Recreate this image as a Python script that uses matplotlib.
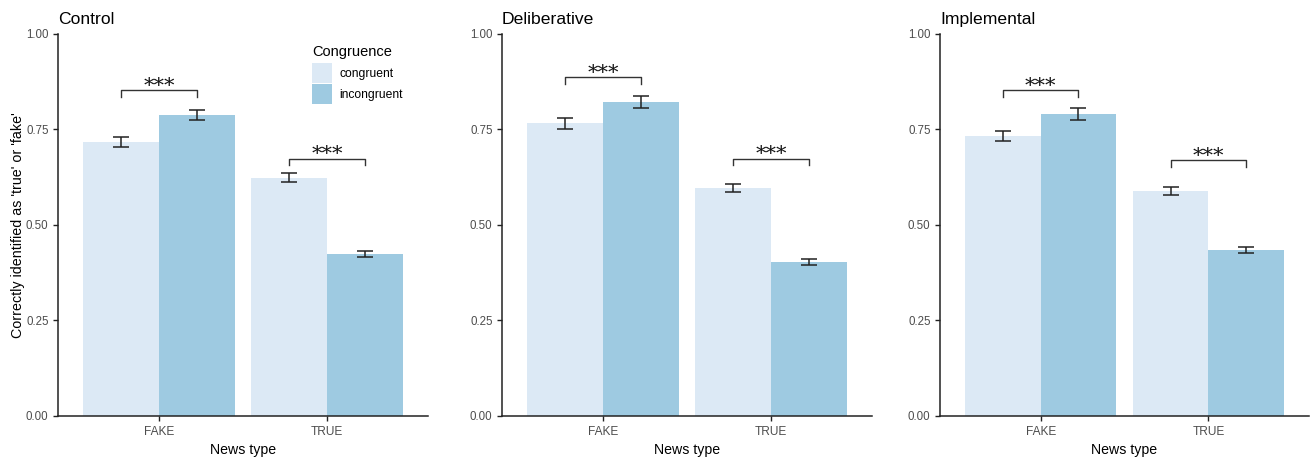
import matplotlib
matplotlib.use("Agg")
import matplotlib.pyplot as plt
import numpy as np
from matplotlib.patches import Patch

plt.rcParams['font.family'] = ['Liberation Sans', 'DejaVu Sans']

panels = ["Control", "Deliberative", "Implemental"]
news_types = ["FAKE", "TRUE"]
groups = ["congruent", "incongruent"]

# means per panel: [FAKE, TRUE]
congruent = {
    "Control": [0.717, 0.623],
    "Deliberative": [0.765, 0.597],
    "Implemental": [0.732, 0.589],
}
incongruent = {
    "Control": [0.787, 0.423],
    "Deliberative": [0.821, 0.403],
    "Implemental": [0.789, 0.434],
}
congruent_err = {
    "Control": [0.013, 0.011],
    "Deliberative": [0.015, 0.0105],
    "Implemental": [0.013, 0.011],
}
incongruent_err = {
    "Control": [0.0135, 0.008],
    "Deliberative": [0.016, 0.008],
    "Implemental": [0.015, 0.0075],
}
# significance bracket heights: [FAKE, TRUE]
bracket_y = {
    "Control": [0.852, 0.673],
    "Deliberative": [0.887, 0.673],
    "Implemental": [0.852, 0.668],
}
sig_label = "***"
yticks = [0.00, 0.25, 0.50, 0.75, 1.00]

col_cong = "#DCE9F5"
col_incong = "#9ECAE1"
axis_col = "#222222"
tick_col = "#4D4D4D"

W, H = 1310, 457
fig = plt.figure(figsize=(W / 100, H / 100), dpi=100)

lefts = [58, 502, 940]
widths = [370, 370, 369]
bottom_px, top_px = 416, 33.5

x = np.arange(1, len(news_types) + 1)
bw = 0.45

for i, p in enumerate(panels):
    ax = fig.add_axes([lefts[i] / W, (H - bottom_px) / H, widths[i] / W, (bottom_px - top_px) / H])
    ax.bar(x - bw / 2, congruent[p], width=bw, color=col_cong, label=groups[0], zorder=1)
    ax.bar(x + bw / 2, incongruent[p], width=bw, color=col_incong, label=groups[1], zorder=1)
    ax.errorbar(x - bw / 2, congruent[p], yerr=congruent_err[p], fmt="none",
                ecolor="#222222", elinewidth=1.1, capsize=6, capthick=1.1, zorder=3)
    ax.errorbar(x + bw / 2, incongruent[p], yerr=incongruent_err[p], fmt="none",
                ecolor="#222222", elinewidth=1.1, capsize=6, capthick=1.1, zorder=3)
    for j in range(len(news_types)):
        yb = bracket_y[p][j]
        x0, x1 = x[j] - bw / 2, x[j] + bw / 2
        ax.plot([x0, x0, x1, x1], [yb - 0.018, yb, yb, yb - 0.018], color="#333333", lw=1.0, zorder=3)
        ax.text((x0 + x1) / 2, yb - 0.005, sig_label, ha="center", va="baseline",
                fontsize=15, family="DejaVu Serif", color="#111111")
    ax.set_xlim(0.4, 2.6)
    ax.set_ylim(0, 1)
    ax.set_yticks(yticks)
    ax.set_yticklabels([f"{v:.2f}" for v in yticks])
    ax.set_xticks(x)
    ax.set_xticklabels(news_types)
    for s in ["top", "right"]:
        ax.spines[s].set_visible(False)
    for s in ["left", "bottom"]:
        ax.spines[s].set_color(axis_col)
        ax.spines[s].set_linewidth(1.1)
    ax.tick_params(axis="both", colors=axis_col, labelcolor=tick_col, length=3.5, width=1)
    ax.tick_params(axis="y", labelsize=8.3, pad=3.3)
    ax.tick_params(axis="x", labelsize=8.6, pad=3.5)
    ax.set_xlabel("News type", fontsize=10.2, color="black", labelpad=4)
    ax.set_title(p, loc="left", fontsize=12.6, pad=7, color="black")
    if i == 0:
        ax.set_ylabel("Correctly identified as 'true' or 'fake'", fontsize=10.3, color="black")
        ax.yaxis.set_label_coords(-0.09, 0.5)
        handles = [Patch(facecolor=col_cong, edgecolor="none"), Patch(facecolor=col_incong, edgecolor="none")]
        leg = ax.legend(handles, groups, title="Congruence", loc="upper left",
                        bbox_to_anchor=(0.686, 0.97), frameon=False, fontsize=8.7,
                        title_fontsize=10.5, handlelength=1.65, handleheight=2.1,
                        handletextpad=0.66, labelspacing=0.12, borderaxespad=0, borderpad=0)
        leg._legend_box.align = "left"
        leg._legend_box.sep = 3.2

fig.savefig("out.png", dpi=100)
